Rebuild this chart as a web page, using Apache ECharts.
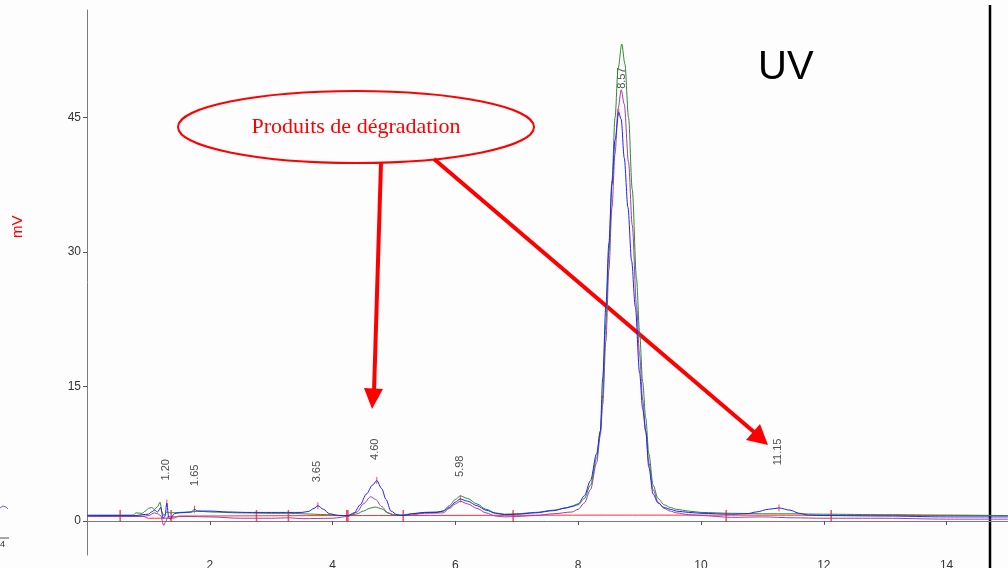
<!DOCTYPE html>
<html style="height: 100%">
  <head>
    <meta charset="UTF-8" />
    <title>Chromatogramme UV</title>
    <script src="https://cdn.jsdelivr.net/npm/echarts/dist/echarts.min.js"></script>
  </head>
  <body style="height: 100%; margin: 0; background: #fdfdfd">
    <div id="main" style="width: 1008px; height: 568px"></div>
    <script>
      // tick labels
      var xTicks = [2, 4, 6, 8, 10, 12, 14];
      var yTicks = [0, 15, 30, 45];

      // traces [temps (min), signal (mV)]
      var green = [
        [0, 0.65], [0.75, 0.65], [0.8, 0.9], [0.9, 0.85], [0.95, 1.1], [1.0, 1.4], [1.05, 1.5],
        [1.1, 1.3], [1.15, 1.6], [1.19, 2.1], [1.22, 1.0], [1.25, 0.6], [1.3, 1.0], [1.35, 0.9],
        [1.5, 0.95], [1.7, 1.0], [1.8, 1.1], [2.0, 1.0], [2.5, 0.9], [3.0, 0.85], [3.3, 0.85],
        [3.5, 0.8], [3.7, 0.75], [3.9, 0.7], [4.2, 0.6], [4.3, 0.65], [4.4, 0.8], [4.5, 1.1],
        [4.6, 1.4], [4.69, 1.55], [4.8, 1.35], [4.9, 0.9], [5.0, 0.7], [5.1, 0.65], [5.3, 0.8],
        [5.5, 0.95], [5.7, 1.0], [5.8, 1.1], [5.9, 1.7], [6.0, 2.4], [6.08, 2.8], [6.2, 2.5],
        [6.35, 1.9], [6.5, 1.3], [6.65, 0.9], [6.8, 0.75], [7.0, 0.8], [7.3, 0.95], [7.6, 1.2],
        [7.8, 1.45], [7.9, 1.6], [8.0, 1.8], [8.1, 2.5], [8.2, 4.0], [8.3, 7.0], [8.36, 10],
        [8.4, 14], [8.45, 22], [8.5, 30], [8.55, 38], [8.6, 45], [8.65, 50.5], [8.71, 53.2],
        [8.76, 51], [8.82, 45], [8.88, 37], [8.95, 27], [9.0, 21], [9.05, 15.5], [9.1, 11.5],
        [9.15, 7.5], [9.22, 4], [9.3, 2.5], [9.4, 1.8], [9.5, 1.5], [9.6, 1.3], [9.8, 1.1],
        [10.0, 0.95], [10.5, 0.85], [11.0, 0.8], [11.5, 0.8], [12.0, 0.75], [13.0, 0.7],
        [14.0, 0.65], [15.0, 0.6]
      ];
      var blue = [
        [0, 0.6], [0.8, 0.6], [0.9, 0.7], [1.0, 0.75], [1.05, 1.0], [1.1, 1.2], [1.15, 1.0],
        [1.2, 1.5], [1.24, 0.3], [1.27, 0.5], [1.3, 2.0], [1.33, 0.4], [1.36, 0.2], [1.42, 0.8],
        [1.5, 0.9], [1.7, 1.0], [1.75, 1.3], [1.8, 1.1], [2.0, 1.1], [2.3, 1.0], [2.6, 0.95],
        [3.0, 0.95], [3.5, 0.95], [3.6, 1.05], [3.7, 1.4], [3.76, 1.7], [3.85, 1.3], [3.95, 0.8],
        [4.1, 0.6], [4.25, 0.6], [4.35, 0.9], [4.45, 1.8], [4.55, 3.0], [4.65, 4.0], [4.72, 4.5],
        [4.8, 3.6], [4.87, 2.4], [4.95, 1.1], [5.05, 0.7], [5.15, 0.6], [5.3, 0.8], [5.5, 0.95],
        [5.7, 0.95], [5.8, 1.1], [5.9, 1.5], [6.0, 2.1], [6.08, 2.45], [6.2, 2.2], [6.35, 1.7],
        [6.5, 1.2], [6.65, 0.85], [6.8, 0.7], [7.0, 0.75], [7.3, 0.9], [7.6, 1.15], [7.8, 1.45],
        [7.9, 1.65], [8.0, 1.9], [8.1, 2.8], [8.2, 4.5], [8.3, 7.5], [8.36, 10], [8.4, 16],
        [8.45, 23.9], [8.5, 31], [8.55, 37.5], [8.6, 42.5], [8.66, 45.6], [8.7, 44.8], [8.75, 40.5],
        [8.81, 35], [8.87, 29], [8.93, 23.9], [9.0, 16.5], [9.05, 12.5], [9.1, 10], [9.15, 6],
        [9.22, 3], [9.3, 2.0], [9.4, 1.5], [9.5, 1.3], [9.6, 1.1], [9.8, 0.95], [10.0, 0.85],
        [10.5, 0.75], [10.75, 0.8], [10.9, 1.0], [11.1, 1.3], [11.27, 1.45], [11.45, 1.2],
        [11.6, 0.85], [11.75, 0.65], [12.0, 0.6], [13.0, 0.55], [14.0, 0.45], [15.0, 0.45]
      ];
      var purple = [
        [0, 0.5], [0.9, 0.5], [1.0, 0.6], [1.1, 0.9], [1.15, 0.8], [1.2, 0.6], [1.25, -0.5],
        [1.28, -0.1], [1.32, 0.5], [1.4, 0.45], [1.6, 0.5], [2.0, 0.45], [2.5, 0.3], [3.0, 0.3],
        [3.3, 0.35], [3.5, 0.25], [4.0, 0.3], [4.25, 0.5], [4.4, 1.0], [4.5, 1.9], [4.62, 2.7],
        [4.7, 2.4], [4.8, 1.6], [4.9, 0.9], [5.0, 0.6], [5.2, 0.6], [5.5, 0.85], [5.8, 0.9],
        [5.9, 1.4], [6.0, 1.9], [6.08, 2.2], [6.2, 1.9], [6.35, 1.4], [6.5, 0.9], [6.65, 0.55],
        [6.8, 0.45], [7.0, 0.5], [7.3, 0.6], [7.6, 0.8], [7.9, 1.0], [8.0, 1.3], [8.1, 2.0],
        [8.2, 3.5], [8.3, 6.5], [8.36, 9.5], [8.4, 13], [8.45, 20], [8.5, 28], [8.55, 35],
        [8.6, 41], [8.65, 46], [8.7, 48.1], [8.75, 46.5], [8.82, 40], [8.88, 33], [8.95, 24],
        [9.0, 18.5], [9.05, 13.5], [9.1, 10], [9.15, 6.5], [9.22, 3.5], [9.3, 2.1], [9.4, 1.4],
        [9.5, 1.1], [9.6, 0.9], [9.8, 0.7], [10.0, 0.6], [10.5, 0.4], [11.0, 0.45], [11.5, 0.35],
        [12.0, 0.3], [13.0, 0.3], [14.0, 0.2], [15.0, 0.2]
      ];
      var redBase = [
        [0, 0.55], [0.9, 0.55], [1.0, 0.3], [1.4, 0.3], [1.5, 0.55], [4.23, 0.6], [8.7, 0.65],
        [15.0, 0.6]
      ];

      // bornes d'intégration et sommets
      var baseMarks = [0.54, 1.37, 2.76, 3.28, 4.23, 4.25, 5.15, 6.94, 10.41, 12.12];
      var apexMarks = [[1.3, 2.0], [1.75, 1.3], [3.76, 1.7], [4.72, 4.5], [6.08, 2.45], [8.66, 45.6], [11.27, 1.45]];

      // temps de rétention affichés
      var peakNames = ['1.20', '1.65', '3.65', '4.60', '5.98', '8.57', '11.15'];
      var peakPos = [[1.29, 5.7], [1.76, 5.1], [3.75, 5.5], [4.69, 8.0], [6.07, 6.1], [8.71, 49.4], [11.25, 7.7]];

      var chart = echarts.init(document.getElementById('main'));

      function trace(data, color) {
        return {
          type: 'line',
          data: data,
          showSymbol: false,
          smooth: 0.3,
          smoothMonotone: 'x',
          lineStyle: { color: color, width: 1 },
          silent: true
        };
      }

      var option = {
        animation: false,
        backgroundColor: '#fdfdfd',
        grid: { left: 87, right: 0, top: 10, bottom: 13, outerBoundsMode: 'none' },
        xAxis: {
          type: 'value',
          min: 0,
          max: 15,
          axisLine: { lineStyle: { color: '#7a7a7a' } },
          axisTick: { customValues: xTicks, length: 4, lineStyle: { color: '#555' } },
          axisLabel: { customValues: xTicks, margin: 5, color: '#333', fontSize: 12, fontFamily: 'Arial' },
          splitLine: { show: false }
        },
        yAxis: {
          type: 'value',
          min: -3.8,
          max: 57,
          axisLine: { show: true, lineStyle: { color: '#7a7a7a' } },
          axisTick: { show: true, customValues: yTicks, length: 4, lineStyle: { color: '#555' } },
          axisLabel: { customValues: yTicks, margin: 6, color: '#333', fontSize: 12, fontFamily: 'Arial' },
          splitLine: { show: false }
        },
        series: [
          trace(redBase, '#ff3030'),
          trace(purple, '#a040a0'),
          trace(green, '#2e8b2e'),
          trace(blue, '#2020ff'),
          {
            type: 'scatter',
            data: baseMarks.map(function (t) { return [t, 0.55]; }),
            symbol: 'rect',
            symbolSize: [1.5, 12],
            itemStyle: { color: '#ff2020' },
            silent: true
          },
          {
            type: 'scatter',
            data: apexMarks,
            symbol: 'rect',
            symbolSize: [1, 7],
            itemStyle: { color: '#ff2020' },
            silent: true
          },
          {
            type: 'scatter',
            data: peakPos,
            symbolSize: 0,
            silent: true,
            label: {
              show: true,
              position: 'inside',
              rotate: 90,
              fontSize: 11,
              fontFamily: 'Arial',
              color: '#222',
              formatter: function (p) { return peakNames[p.dataIndex]; }
            }
          }
        ],
        graphic: [
          {
            type: 'text',
            x: 10,
            y: 238,
            rotation: Math.PI / 2,
            style: { text: 'mV', fill: '#ff0000', font: '15px Arial' }
          },
          {
            type: 'text',
            x: 758,
            y: 48,
            style: { text: 'UV', fill: '#000', font: '40px Arial' }
          },
          {
            type: 'ellipse',
            shape: { cx: 356, cy: 127, rx: 178, ry: 36 },
            style: { fill: 'none', stroke: '#ff0000', lineWidth: 2 }
          },
          {
            type: 'text',
            x: 356,
            y: 127,
            style: {
              text: 'Produits de dégradation',
              fill: '#ff0000',
              font: '22px "Liberation Serif", "Times New Roman", serif',
              align: 'center',
              verticalAlign: 'middle'
            }
          },
          {
            type: 'line',
            shape: { x1: 381, y1: 163, x2: 374, y2: 392 },
            style: { stroke: '#ff0000', lineWidth: 4 }
          },
          {
            type: 'polygon',
            shape: { points: [[364, 388], [383, 389], [372, 409]] },
            style: { fill: '#ff0000' }
          },
          {
            type: 'line',
            shape: { x1: 434, y1: 159, x2: 754, y2: 432 },
            style: { stroke: '#ff0000', lineWidth: 4 }
          },
          {
            type: 'polygon',
            shape: { points: [[746, 440], [760, 424], [768, 445]] },
            style: { fill: '#ff0000' }
          },
          {
            type: 'line',
            shape: { x1: 990, y1: 5, x2: 990, y2: 568 },
            style: { stroke: '#000', lineWidth: 2.5 }
          },
          // débris de la figure voisine, bord gauche
          {
            type: 'polyline',
            shape: { points: [[0, 508], [3, 506], [6, 507], [8, 509]] },
            style: { stroke: '#6060ff', lineWidth: 1 }
          },
          {
            type: 'line',
            shape: { x1: 0, y1: 538, x2: 9, y2: 538 },
            style: { stroke: '#555', lineWidth: 1 }
          },
          {
            type: 'text',
            x: 0,
            y: 540,
            style: { text: '4', fill: '#333', font: '9px Arial' }
          }
        ]
      };

      chart.setOption(option);
    </script>
  </body>
</html>
